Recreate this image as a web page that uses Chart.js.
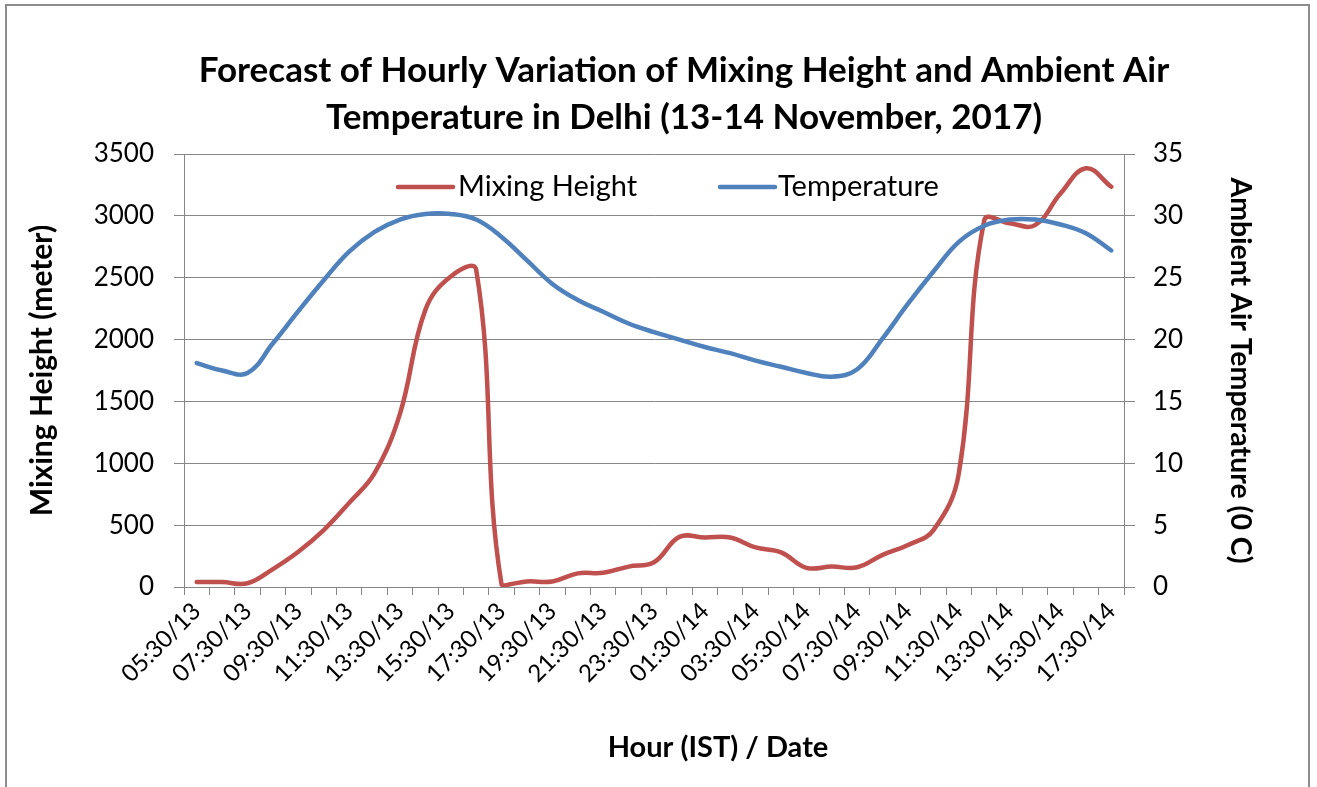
<!DOCTYPE html>
<html>
<head>
<meta charset="utf-8">
<script src="https://cdn.jsdelivr.net/npm/chart.js@4.4.1/dist/chart.umd.min.js"></script>
<style>
  html, body { margin: 0; padding: 0; background: #fff; }
  #wrap { position: relative; width: 1317px; height: 787px; overflow: hidden; }
  #frame { position: absolute; left: 5px; top: 4px; width: 1305px; height: 820px;
           border: 2px solid #8c8c8c; box-sizing: border-box; pointer-events: none; }
</style>
</head>
<body>
<div id="wrap">
  <canvas id="chart"></canvas>
  <div id="frame"></div>
</div>
<script>
// hourly forecast, 05:30 on the 13th to 17:30 on the 14th
const hours = [
  '05:30/13', '06:30/13', '07:30/13', '08:30/13', '09:30/13', '10:30/13', '11:30/13',
  '12:30/13', '13:30/13', '14:30/13', '15:30/13', '16:30/13', '17:30/13', '18:30/13',
  '19:30/13', '20:30/13', '21:30/13', '22:30/13', '23:30/13', '00:30/14', '01:30/14',
  '02:30/14', '03:30/14', '04:30/14', '05:30/14', '06:30/14', '07:30/14', '08:30/14',
  '09:30/14', '10:30/14', '11:30/14', '12:30/14', '13:30/14', '14:30/14', '15:30/14',
  '16:30/14', '17:30/14'
];
const mixingHeight = [
  40, 40, 30, 145, 285, 460, 680, 920, 1400, 2240, 2510, 2565, 20, 45,
  45, 110, 115, 165, 200, 405, 400, 400, 320, 280, 155, 165, 160, 260,
  340, 460, 920, 2965, 2940, 2925, 3180, 3385, 3235
];
const temperature = [
  18.1, 17.5, 17.3, 19.7, 22.3, 24.8, 27.1, 28.7, 29.7, 30.15, 30.15, 29.7, 28.3, 26.4,
  24.5, 23.2, 22.25, 21.3, 20.6, 20.0, 19.4, 18.9, 18.3, 17.8, 17.3, 17.0, 17.6, 20.1,
  22.9, 25.5, 27.9, 29.2, 29.7, 29.7, 29.3, 28.6, 27.2
];
const titleLines = [
  'Forecast of Hourly Variation of Mixing Height and Ambient Air',
  'Temperature in Delhi (13-14 November, 2017)'
];

const RED = '#c0504d';
const BLUE = '#4f81bd';
const GRID = '#868686';
const FONT = 'Lato';

// title, x axis title and the in-plot legend, placed like the Excel original
const decor = {
  id: 'decor',
  afterDraw(chart) {
    const ctx = chart.ctx;
    ctx.save();
    ctx.fillStyle = '#000';
    ctx.textAlign = 'center';
    ctx.textBaseline = 'alphabetic';
    ctx.font = 'bold 35px ' + FONT;
    ctx.fillText(titleLines[0], 684, 82);
    ctx.fillText(titleLines[1], 684, 129);

    ctx.font = 'bold 29px ' + FONT;
    ctx.textBaseline = 'middle';
    ctx.fillText('Hour (IST) / Date', 718, 748);

    const items = [
      { label: chart.data.datasets[0].label, color: RED, x0: 398, x1: 453, tx: 458 },
      { label: chart.data.datasets[1].label, color: BLUE, x0: 720, x1: 775, tx: 778 }
    ];
    ctx.font = '29px ' + FONT;
    ctx.textAlign = 'left';
    ctx.lineCap = 'round';
    items.forEach(it => {
      ctx.strokeStyle = it.color;
      ctx.lineWidth = 4.5;
      ctx.beginPath();
      ctx.moveTo(it.x0, 187);
      ctx.lineTo(it.x1, 187);
      ctx.stroke();
      ctx.fillText(it.label, it.tx, 187);
    });
    ctx.restore();
  }
};

new Chart(document.getElementById('chart'), {
  type: 'line',
  data: {
    labels: hours,
    datasets: [
      {
        label: 'Mixing Height',
        data: mixingHeight,
        yAxisID: 'y',
        borderColor: RED,
        backgroundColor: RED,
        borderWidth: 4.5,
        tension: 0.4,
        pointRadius: 0,
        borderCapStyle: 'round',
        borderJoinStyle: 'round',
        order: 1
      },
      {
        label: 'Temperature',
        data: temperature,
        yAxisID: 'y1',
        borderColor: BLUE,
        backgroundColor: BLUE,
        borderWidth: 4.5,
        tension: 0.4,
        pointRadius: 0,
        borderCapStyle: 'round',
        borderJoinStyle: 'round',
        order: 0
      }
    ]
  },
  options: {
    responsive: true,
    maintainAspectRatio: false,
    animation: false,
    layout: { padding: { top: 154, left: 10, right: 20, bottom: 0 } },
    plugins: {
      legend: { display: false },
      title: { display: false },
      tooltip: { enabled: false }
    },
    scales: {
      x: {
        offset: true,
        grid: { display: true, drawOnChartArea: false, offset: true, tickLength: 8, color: GRID, lineWidth: 1 },
        border: { color: GRID, width: 1 },
        ticks: {
          autoSkip: false, minRotation: 45, maxRotation: 45, padding: 2,
          color: '#000', font: { family: FONT, size: 24 },
          callback: (v, i) => (i % 2 === 0 ? hours[i] : '')
        },
        afterFit: s => { s.height = 200; }
      },
      y: {
        position: 'left',
        min: 0, max: 3500,
        grid: { color: GRID, lineWidth: 1, tickLength: 10 },
        border: { color: GRID, width: 1 },
        ticks: {
          stepSize: 500, padding: 20, color: '#000', font: { family: FONT, size: 26 },
          callback: v => String(v)
        },
        title: {
          display: true, text: 'Mixing Height (meter)', color: '#000',
          font: { family: FONT, size: 30, weight: 'bold' }, padding: { top: 14, bottom: 0 }
        },
        afterFit: s => { s.width = 174; }
      },
      y1: {
        position: 'right',
        min: 0, max: 35,
        grid: { drawOnChartArea: false, color: GRID, lineWidth: 1, tickLength: 11 },
        border: { color: GRID, width: 1 },
        ticks: {
          stepSize: 5, padding: 18, color: '#000', font: { family: FONT, size: 26 },
          callback: v => String(v)
        },
        title: {
          display: true, text: 'Ambient Air Temperature (0 C)', color: '#000',
          font: { family: FONT, size: 28.5, weight: 'bold' }, padding: { top: 40, bottom: 0 }
        },
        afterFit: s => { s.width = 173; }
      }
    }
  },
  plugins: [decor]
});
</script>
</body>
</html>
